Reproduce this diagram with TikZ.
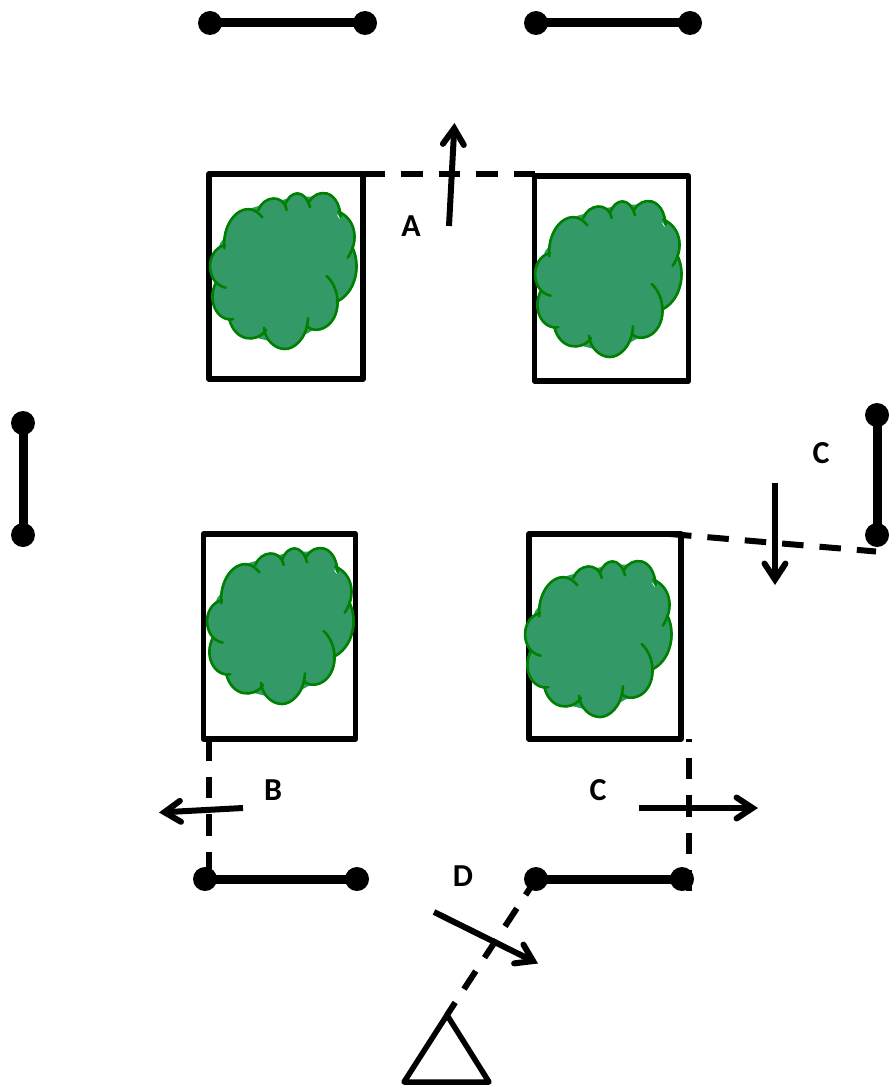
\documentclass[tikz,border=0pt]{standalone}
\usepackage{fontspec}
\setmainfont{Carlito}
\usetikzlibrary{arrows.meta}
\definecolor{treefill}{HTML}{339966}
\definecolor{treeline}{HTML}{008000}
\tikzset{
  plot/.style={draw=black,line width=5.5pt,line join=round,fill=white,minimum width=#1,inner sep=0pt,outer sep=0pt},
  dot/.style={circle,fill=black,minimum size=24pt,inner sep=0pt,outer sep=0pt},
  bar/.style={line width=9pt,black},
  dashline/.style={line width=6pt,black,dash pattern=on 21.5pt off 16pt},
  viewarrow/.style={line width=6pt,black,-{Straight Barb[length=16pt,width=21pt,line cap=round]}},
  lab/.style={font=\bfseries\fontsize{32}{32}\selectfont,text=black,inner sep=0pt},
  lobe/.style={draw=treeline,line width=2.6pt,line cap=round},
  lobefill/.style={fill=treefill,draw=treefill,line width=2pt}
}
\newcommand{\lobepaths}[1]{%
  \path[#1] (103,265) .. controls (95,175) and (170,110) .. (217,172);
  \path[#1] (205,150) .. controls (220,108) and (280,100) .. (290,150);
  \path[#1] (285,135) .. controls (300,90) and (345,85) .. (360,142);
  \path[#1] (358,125) .. controls (380,85) and (445,85) .. (452,170);
  \path[#1] (445,155) .. controls (495,175) and (510,240) .. (473,293);
  \path[#1] (487,262) .. controls (515,320) and (495,400) .. (440,425);
  \path[#1] (410,348) .. controls (450,385) and (455,460) .. (415,495) .. controls (395,512) and (365,515) .. (350,497);
  \path[#1] (354,475) .. controls (350,540) and (310,567) .. (285,567) .. controls (255,567) and (225,540) .. (222,503);
  \path[#1] (228,510) .. controls (200,550) and (135,545) .. (118,478);
  \path[#1] (130,478) .. controls (80,485) and (50,420) .. (78,368);
  \path[#1] (107,383) .. controls (45,370) and (45,270) .. (105,255);
}
\newcommand{\treeat}[2]{%
  \begin{scope}[shift={(190+#1,160+#2)},x=0.33333pt,y=-0.33333pt]
    \fill[treefill] (90,250) -- (165,150) -- (250,125) -- (325,110) -- (400,110) -- (480,220) -- (490,330) -- (435,425) -- (380,505) -- (285,555) -- (185,530) -- (85,440) -- (70,320) -- cycle;
    \lobepaths{lobefill}
    \lobepaths{lobe}
  \end{scope}}
\begin{document}
\begin{tikzpicture}[x=1pt,y=-1pt]
\useasboundingbox (0,0) rectangle (893,1089);
% plots
\node[plot=154pt,minimum height=205pt] (p1) at (286,276.5) {};
\node[plot=154pt,minimum height=205pt] (p2) at (611.5,278.5) {};
\node[plot=152pt,minimum height=205pt] (p3) at (279.5,636.5) {};
\node[plot=152pt,minimum height=205pt] (p4) at (605,636.5) {};
% trees
\treeat{0}{0}
\treeat{325}{8}
\treeat{-3}{355}
\treeat{315}{368}
% fences
\node[dot] (a1) at (210,23) {};
\node[dot] (a2) at (365,23) {};
\node[dot] (b1) at (536,23) {};
\node[dot] (b2) at (690,23) {};
\node[dot] (c1) at (23,423) {};
\node[dot] (c2) at (23,535) {};
\node[dot] (d1) at (877,415) {};
\node[dot] (d2) at (877,535) {};
\node[dot] (e1) at (205,879) {};
\node[dot] (e2) at (357,879) {};
\node[dot] (f1) at (536,879) {};
\node[dot] (f2) at (682,879) {};
\foreach \u/\v in {a1/a2,b1/b2,c1/c2,d1/d2,e1/e2,f1/f2} \draw[bar] (\u.center) -- (\v.center);
% dashed lines
\coordinate (g1) at (363.5,174); \coordinate (g2) at (535,174);
\coordinate (h1) at (670,534); \coordinate (h2) at (876,551.5);
\coordinate (i1) at (209,739); \coordinate (i2) at (209,878);
\coordinate (j1) at (689,739); \coordinate (j2) at (689,891);
\coordinate (k1) at (447,1015); \coordinate (k2) at (f1);
\draw[dashline] (g1) -- (g2);
\draw[dashline] (h1) -- (h2);
\draw[dashline] (i1) -- (i2);
\draw[dashline,dash phase=19pt] (j1) -- (j2);
\draw[dashline,dash phase=6.5pt] (k1) -- (k2);
% observer
\coordinate (t1) at (404,1082); \coordinate (t2) at (489,1082);
\draw[line width=5.5pt,line join=round] (t1) -- (t2) -- (k1) -- cycle;
% arrows
\coordinate (m1) at (449,226); \coordinate (m2) at (454.5,123);
\coordinate (n1) at (775,483); \coordinate (n2) at (775,585);
\coordinate (o1) at (243,808); \coordinate (o2) at (159,812.5);
\coordinate (q1) at (639,808); \coordinate (q2) at (758,808);
\coordinate (r1) at (434,912); \coordinate (r2) at (538,963.5);
\draw[viewarrow] (m1) -- (m2);
\draw[viewarrow] (n1) -- (n2);
\draw[viewarrow] (o1) -- (o2);
\draw[viewarrow] (q1) -- (q2);
\draw[viewarrow] (r1) -- (r2);
% labels
\node[lab] (la) at (411,226) {A};
\node[lab] (lb) at (273,790) {B};
\node[lab] (lc1) at (821,453) {C};
\node[lab] (lc2) at (598,790) {C};
\node[lab] (ld) at (463,876) {D};
\end{tikzpicture}
\end{document}
